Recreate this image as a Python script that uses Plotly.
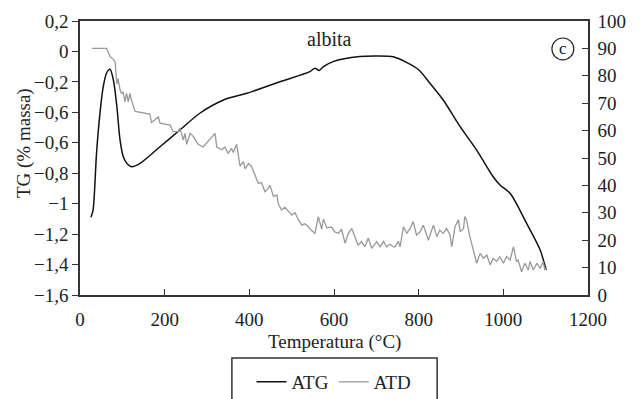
import plotly.graph_objects as go

# ATG (TG, left axis)
atg_x = [26, 31, 39, 47, 55, 63, 71, 79, 87, 94.5, 102, 112, 122, 142, 189, 236, 283, 339, 394,
         472, 543, 555, 565, 575, 598, 661, 700, 740, 770, 800, 827, 858, 898, 937, 976, 992,
         1016, 1055, 1087, 1101]
atg_y = [-1.09, -1.04, -0.67, -0.41, -0.23, -0.14, -0.117, -0.19, -0.36, -0.58, -0.69, -0.74,
         -0.757, -0.735, -0.626, -0.516, -0.406, -0.319, -0.275, -0.199, -0.133, -0.11, -0.125,
         -0.10, -0.067, -0.034, -0.03, -0.035, -0.07, -0.12, -0.21, -0.319, -0.494, -0.648,
         -0.823, -0.877, -0.932, -1.13, -1.305, -1.436]

# ATD (right axis)
atd_x = [28, 63, 71, 79, 83, 87, 90, 94.5, 98, 102, 106, 110, 114, 118, 120, 130, 165, 169, 177,
         185, 189, 213, 220, 232, 236, 244, 248, 252, 260, 267, 279, 291, 319, 323, 335, 342, 350,
         358, 362, 370, 378, 386, 390, 398, 405, 413, 421, 429, 437, 445, 449, 457, 465, 468, 476,
         484, 492, 500, 508, 516, 524, 531, 539, 547, 555, 563, 571, 575, 583, 594, 602, 610, 618,
         626, 634, 642, 650, 657, 665, 673, 681, 689, 701, 709, 717, 724, 732, 740, 744, 752, 756,
         764, 772, 780, 787, 795, 803, 811, 815, 823, 831, 835, 843, 850, 858, 866, 874, 878, 886,
         894, 898, 906, 909, 913, 921, 925, 929, 937, 945, 953, 961, 969, 976, 984, 992, 1000,
         1008, 1016, 1024, 1028, 1031, 1035, 1043, 1051, 1059, 1063, 1071, 1079, 1087, 1094, 1098,
         1102]
atd_y = [90, 90, 87, 86, 85, 77, 79, 75, 73.6, 74, 70.5, 73.6, 70.5, 73.6, 72, 67, 66, 63, 64,
         65, 62.7, 62, 59.6, 59.6, 61, 56.6, 59, 55, 59, 58, 55, 54, 59, 54, 53, 54, 51.7,
         53.5, 52, 55, 47, 48.7, 46, 48, 47, 43.8, 40.8, 41, 37.7, 39, 40, 35.9, 36.5, 33.5, 31,
         32, 30.5, 29.2, 30, 27.4, 25.5, 26, 25, 23.5, 22.5, 28.6, 24, 27.7, 24.5, 24.8, 23, 22.5, 24,
         18.9, 22.5, 24.3, 21, 18.2, 19.5, 17.6, 20.8, 17, 19.5, 17.6, 19.6, 17.6, 18.5, 17.6, 17.6, 19.6, 17.6,
         24.9, 22.5, 24.3, 26.8, 21.9, 23, 25.5, 23.7, 20, 23.7, 25.5, 21.3, 23.7, 22.5, 24.3, 22, 17.6, 25,
         27.4, 23.1, 24.3, 28.6, 27.4, 21.3, 18.8, 15.8, 11.6, 15.2, 13.4, 14.6, 11, 13.4, 12.2, 14, 11.6,
         14, 12.8, 17.6, 14, 12.2, 12.8, 8.5, 11.6, 9.1, 12.2, 9.1, 11.6, 9.7, 12.2, 9.1,
         10.3]

y_tickvals = [0.2, 0, -0.2, -0.4, -0.6, -0.8, -1.0, -1.2, -1.4, -1.6]
y_ticktext = ["0,2", "0", "\u22120,2", "\u22120,6", "\u22120,6", "\u22120,8", "\u22121",
              "\u22121,2", "\u22121,4", "\u22121,6"]

FONT = "'Liberation Serif', 'DejaVu Serif', serif"
AX = "#333333"

fig = go.Figure()
fig.add_trace(go.Scatter(x=atg_x, y=atg_y, mode="lines", name="ATG",
                         line=dict(color="#111111", width=1.5, shape="spline", smoothing=0.8)))
fig.add_trace(go.Scatter(x=atd_x, y=atd_y, mode="lines", name="ATD", yaxis="y2",
                         line=dict(color="#999999", width=1.3)))

fig.update_layout(
    width=644, height=399,
    margin=dict(l=80, r=56, t=21, b=104, autoexpand=False),
    paper_bgcolor="white", plot_bgcolor="white",
    font=dict(family=FONT, size=19, color="#222222"),
    showlegend=True,
    legend=dict(orientation="h", x=0.5, xanchor="center", y=-0.3175, yanchor="middle",
                bgcolor="rgba(0,0,0,0)", borderwidth=0, font=dict(family=FONT, size=19),
                itemwidth=30, tracegroupgap=0),
    xaxis=dict(range=[0, 1200], tickvals=[0, 200, 400, 600, 800, 1000, 1200],
               ticks="inside", ticklen=6, tickcolor=AX, showline=True, linecolor=AX,
               linewidth=1.5, mirror=True, showgrid=False, zeroline=False,
               ticklabelstandoff=6, tickfont=dict(family=FONT, size=19)),
    yaxis=dict(range=[-1.6, 0.2], tickvals=y_tickvals, ticktext=y_ticktext,
               ticks="outside", ticklen=6, tickcolor=AX, showline=True, linecolor=AX,
               linewidth=1.5, showgrid=False, zeroline=False, tickfont=dict(family=FONT, size=19)),
    yaxis2=dict(range=[0, 100], tickvals=list(range(0, 101, 10)), overlaying="y", side="right",
                ticks="inside", ticklen=6, tickcolor=AX, showline=True, linecolor=AX,
                linewidth=1.5, showgrid=False, zeroline=False, ticklabelstandoff=4,
                tickfont=dict(family=FONT, size=19)),
)

# legend frame (extends past bottom edge)
fig.add_shape(type="rect", xref="paper", yref="paper", x0=0.299, x1=0.703, y0=-0.43, y1=-0.230,
              line=dict(color=AX, width=1.5))
# circled label
fig.add_shape(type="circle", xref="paper", yref="paper", x0=0.929, x1=0.972, y0=0.858, y1=0.938,
              line=dict(color="#222222", width=1.2))
fig.add_annotation(text="c", xref="paper", yref="paper", x=0.9505, y=0.898, showarrow=False,
                   font=dict(family=FONT, size=17), xanchor="center", yanchor="middle")
fig.add_annotation(text="albita", xref="paper", yref="paper", x=0.492, y=0.935, showarrow=False,
                   font=dict(family=FONT, size=20), xanchor="center", yanchor="middle")
fig.add_annotation(text="Temperatura (°C)", xref="paper", yref="paper", x=0.5, y=-0.17,
                   showarrow=False, xanchor="center", yanchor="middle",
                   font=dict(family=FONT, size=19))
fig.add_annotation(text="TG (% massa)", xref="paper", yref="paper", x=-0.110, y=0.555,
                   showarrow=False, textangle=-90, xanchor="center", yanchor="middle",
                   font=dict(family=FONT, size=19))

fig.write_html("out.html")
